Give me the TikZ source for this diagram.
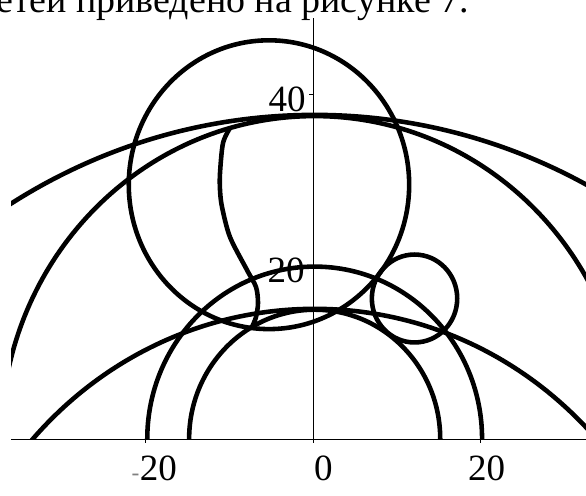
\documentclass[tikz,border=0pt]{standalone}
\usepackage{fontspec}
\setmainfont{Liberation Serif}
\begin{document}
\begin{tikzpicture} [x = 0.2511cm, y = 0.2586cm,
	ring/.style = {line width = 3.9pt},
	axis/.style = {line width = 0.8pt},
	lab/.style = {inner sep = 0pt, font = \fontsize{31.6}{38}\selectfont}]
	\useasboundingbox (-9.39cm,-1.68cm) rectangle ++(17.58cm,14.85cm);
	\scope
	\clip (-9.39cm,-1.68cm) rectangle ++(17.58cm,14.85cm);
	% axes
	\draw [axis] (-36.08,0) -- (32.7,0);
	\draw [axis] (0,0) -- (0,48.84);
	\foreach \t in {-20,0,20} \draw [axis] (\t,0) -- (\t,-0.46);
	\foreach \t in {20,40} \draw [axis] (0,\t) -- (-0.48,\t);
	% circles, upper halves only
	\scope
	\clip (-36.08,0) rectangle (32.7,52);
	\draw [ring] (0.2,0) circle (20);
	\draw [ring] (0.2,0) circle (15);
	\draw [ring] (0.2,-30) circle (45.1);
	\draw [ring] (0.2,0) circle (37.46);
	\draw [ring] (0.2,-31.4) circle (69);
	\draw [ring] (-5.26,29.5) circle (16.75);
	\draw [ring] (12.13,16.3) circle (5.1);
	%\draw [ring] (0,0) circle (30);
	\draw [ring] plot [smooth] coordinates {(-9.9,36.1) (-10.75,34.34) (-11.11,30.86)
		(-11.11,28.89) (-10.87,26.91) (-9.92,23.43) (-7.89,19.61) (-6.81,17.63)
		(-6.57,15.78) (-6.81,14.15) (-7.29,12.99)};
	\endscope
	% labels
	\draw (18.64,49.42) node [lab, anchor = base east, font = \fontsize{32.4}{38}\selectfont] (txt) {сетей приведено на рисунке 7.};
	\draw (-0.84,38.05) node [lab, anchor = base east] (y40) {40};
	\draw (-0.96,18.1) node [lab, anchor = base east] (y20) {20};
	\draw (-18.46,-4.76) node [lab, anchor = base] (xm20) {20};
	\draw (xm20.base west) node [lab, anchor = base east, text = gray, font = \fontsize{20}{24}\selectfont] (dash) {-};
	\draw (1.25,-4.76) node [lab, anchor = base] (x0) {0};
	\draw (20.73,-4.76) node [lab, anchor = base] (x20) {20};
	\endscope
\end{tikzpicture}
\end{document}
